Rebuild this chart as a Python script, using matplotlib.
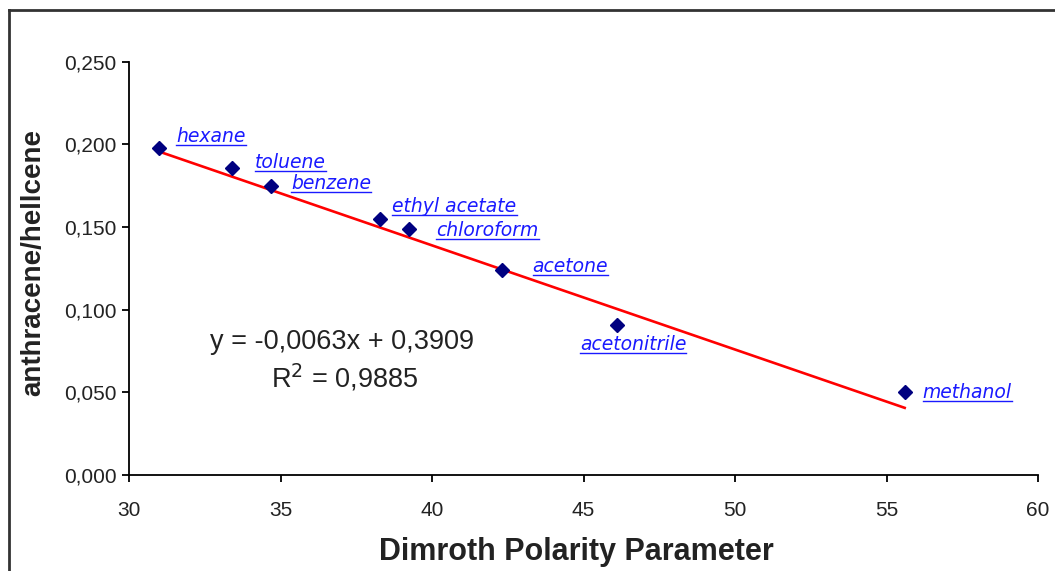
import matplotlib
matplotlib.use("Agg")
import matplotlib.pyplot as plt
from matplotlib.lines import Line2D
import numpy as np

plt.rcParams['font.family'] = ['Liberation Sans', 'DejaVu Sans']

# Data
solvents = ["hexane", "toluene", "benzene", "ethyl acetate", "chloroform",
            "acetone", "acetonitrile", "methanol"]
dimroth = [31.0, 33.4, 34.7, 38.3, 39.25, 42.3, 46.1, 55.6]
ratio = [0.198, 0.186, 0.175, 0.155, 0.149, 0.124, 0.091, 0.050]
slope = -0.0063
intercept = 0.3909
r2 = 0.9885
x_ticks = [30, 35, 40, 45, 50, 55, 60]
y_ticks = [0.0, 0.05, 0.10, 0.15, 0.20, 0.25]
y_tick_labels = ["0,000", "0,050", "0,100", "0,150", "0,200", "0,250"]
# label offsets in pixels (dx, dy)
label_offsets = [(17, 11), (23, 5), (20, 2), (12, 12), (27, -2),
                 (31, 4), (-37, -20), (18, 0)]

W, H = 1055, 571
fig = plt.figure(figsize=(W / 100, H / 100), dpi=100)
ax = fig.add_axes([129 / W, 96 / H, (1038 - 129) / W, (475 - 61.7) / H])

# trend line
xs = np.array([min(dimroth), max(dimroth)])
ax.plot(xs, slope * xs + intercept, color='#FF0000', lw=1.9, zorder=2)
ax.plot(dimroth, ratio, linestyle='none', marker='D', markersize=7,
        color='#000080', zorder=3)

ax.set_xlim(30, 60)
ax.set_ylim(0, 0.25)
ax.set_xticks(x_ticks)
ax.set_xticklabels([str(t) for t in x_ticks])
ax.set_yticks(y_ticks)
ax.set_yticklabels(y_tick_labels)
for s in ['top', 'right']:
    ax.spines[s].set_visible(False)
for s in ['left', 'bottom']:
    ax.spines[s].set_linewidth(1.3)
ax.tick_params(direction='out', length=5, width=1.3, labelsize=15,
               colors='black', labelcolor='#222222')
ax.tick_params(axis='x', pad=14)
ax.tick_params(axis='y', pad=4)

ax.set_xlabel("Dimroth Polarity Parameter", fontsize=22, fontweight='bold',
              color='#222222')
ax.set_ylabel("anthracene/hellcene", fontsize=20, fontweight='bold',
              color='#222222')
ax.xaxis.set_label_coords(576 / W, 1 - 552 / H, transform=fig.transFigure)
ax.yaxis.set_label_coords(33 / W, 1 - 263 / H, transform=fig.transFigure)
ax.xaxis.label.set_va('center')
ax.yaxis.label.set_va('center')

texts = []
for name, x, y, (dx, dy) in zip(solvents, dimroth, ratio, label_offsets):
    t = ax.annotate(name, (x, y), xytext=(dx, dy), textcoords='offset pixels',
                    ha='left', va='center', fontsize=13.5, style='italic',
                    family='DejaVu Sans', color='#1a1aff')
    texts.append(t)

fig.text(342 / W, 1 - 342 / H, "y = -0,0063x + 0,3909",
         ha='center', va='center', fontsize=19.5, color='#222222')
fig.text(345 / W, 1 - 378 / H, "R$^2$ = 0,9885",
         ha='center', va='center', fontsize=19.5, color='#222222')

# outer border (top and left visible)
fig.add_artist(Line2D([9 / W, 1.0], [1 - 10 / H, 1 - 10 / H],
                      transform=fig.transFigure, color='#333333', lw=2))
fig.add_artist(Line2D([9 / W, 9 / W], [0, 1 - 10 / H],
                      transform=fig.transFigure, color='#333333', lw=2))

# underline the data labels
fig.canvas.draw()
renderer = fig.canvas.get_renderer()
inv = fig.transFigure.inverted()
for t in texts:
    bb = t.get_window_extent(renderer)
    yline = bb.y0 + 1
    p0 = inv.transform((bb.x0, yline))
    p1 = inv.transform((bb.x1, yline))
    fig.add_artist(Line2D([p0[0], p1[0]], [p0[1], p1[1]],
                          transform=fig.transFigure, color='#1a1aff', lw=1))

fig.savefig("out.png", dpi=100)
